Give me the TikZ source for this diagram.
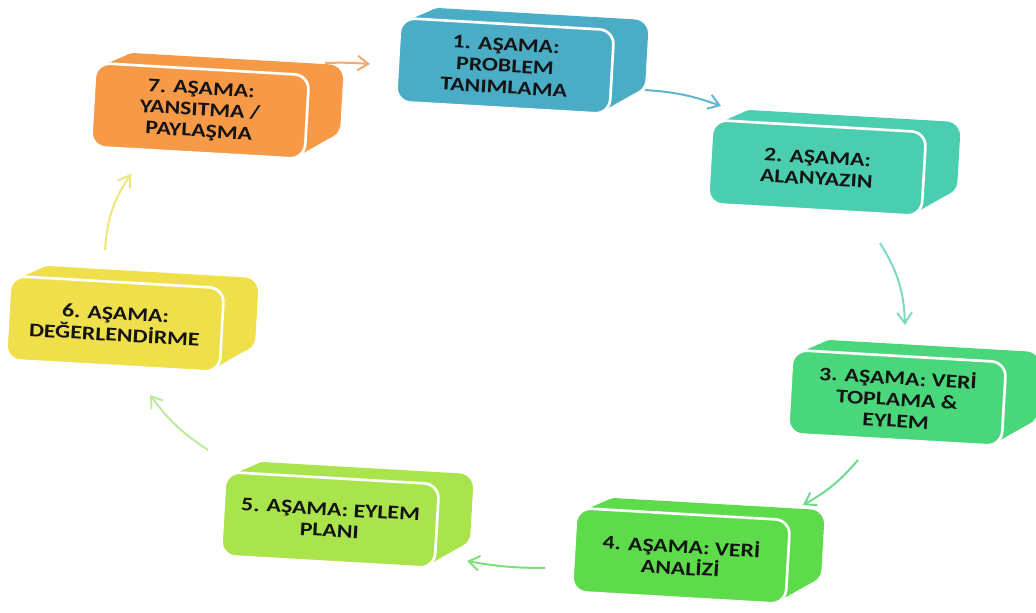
\documentclass[tikz,border=0pt]{standalone}
\usepackage{fontspec}
\setmainfont{Carlito}
\newfontfamily\stagefam{Carlito}[FakeStretch=1.23]
\usetikzlibrary{arrows.meta}

% stage colours
\definecolor{stA}{HTML}{4BACC6}
\definecolor{stB}{HTML}{4ACEAF}
\definecolor{stC}{HTML}{4AD67A}
\definecolor{stD}{HTML}{5DDB4B}
\definecolor{stE}{HTML}{A9E44C}
\definecolor{stF}{HTML}{EEDF4B}
\definecolor{stG}{HTML}{F79A48}
% connector colours
\definecolor{arA}{HTML}{5DB7D0}
\definecolor{arB}{HTML}{7ED9C3}
\definecolor{arC}{HTML}{6FD98F}
\definecolor{arD}{HTML}{7CE07A}
\definecolor{arE}{HTML}{BDEB9B}
\definecolor{arF}{HTML}{F0E57A}
\definecolor{arG}{HTML}{F5A86A}
\definecolor{ink}{HTML}{141414}

\newcommand{\stagefont}{\stagefam\fontsize{14.5}{16}\selectfont\bfseries}

\tikzset{
  face/.style={rectangle, rounded corners=11pt, minimum width=160.5pt,
    minimum height=63pt, inner sep=0pt, draw=white, line width=2pt,
    rotate=-3.3, text=ink, font=\stagefont, align=center},
  flow/.style={line width=1.5pt, -{Straight Barb[length=8pt,width=11pt]}},
}

% #1 name, #2 x, #3 y, #4 colour, #5 label
\newcommand{\stagebox}[5]{%
  \begin{scope}[shift={(#2,#3)}, rotate=-3.3]
    \fill[#4, rounded corners=11pt] (-83,-20) rectangle (141,54);
    \fill[#4, rounded corners=11pt] (-107,-42) rectangle (107,42);
    \fill[#4] (-98.71,40.42) -- (-74.71,52.42) -- (134.15,-17.6) -- (100.15,-39.6) -- cycle;
  \end{scope}
  \node[face, fill=#4] (#1) at (#2,#3) {#5};
}

\begin{document}
\begin{tikzpicture}[x=0.75pt, y=0.75pt]
  \useasboundingbox (0,0) rectangle (1036,613);

  \stagebox{s1}{505}{547}{stA}{1. AŞAMA:\\PROBLEM\\TANIMLAMA}
  \stagebox{s2}{817}{445}{stB}{2. AŞAMA:\\ALANYAZIN}
  \stagebox{s3}{897}{215}{stC}{3. AŞAMA: VERİ\\TOPLAMA \&\\EYLEM}
  \stagebox{s4}{681}{57}{stD}{4. AŞAMA: VERİ\\ANALİZİ}
  \stagebox{s5}{330}{93}{stE}{5. AŞAMA: EYLEM\\PLANI}
  \stagebox{s6}{115}{289}{stF}{6. AŞAMA:\\DEĞERLENDİRME}
  \stagebox{s7}{200}{502}{stG}{7. AŞAMA:\\YANSITMA /\\PAYLAŞMA}

  % connector ends
  \coordinate (g1) at (325,550);  \coordinate (g2) at (370,549);
  \coordinate (a1) at (645,523);  \coordinate (a2) at (721,507);
  \coordinate (b1) at (880,370);  \coordinate (b2) at (905,288);
  \coordinate (c1) at (858,153);  \coordinate (c2) at (803,108);
  \coordinate (d1) at (545,45);   \coordinate (d2) at (467,52);
  \coordinate (e1) at (208,163);  \coordinate (e2) at (150,218);
  \coordinate (f1) at (105,363);  \coordinate (f2) at (131,439);

  \draw[flow, arG] (g1) to[bend left=3]  (g2);
  \draw[flow, arA] (a1) to[bend left=8]  (a2);
  \draw[flow, arB] (b1) to[bend left=15] (b2);
  \draw[flow, arC] (c1) to[bend left=10] (c2);
  \draw[flow, arD] (d1) to[bend left=5]  (d2);
  \draw[flow, arE] (e1) to[bend left=10] (e2);
  \draw[flow, arF] (f1) to[bend left=15] (f2);
\end{tikzpicture}
\end{document}
